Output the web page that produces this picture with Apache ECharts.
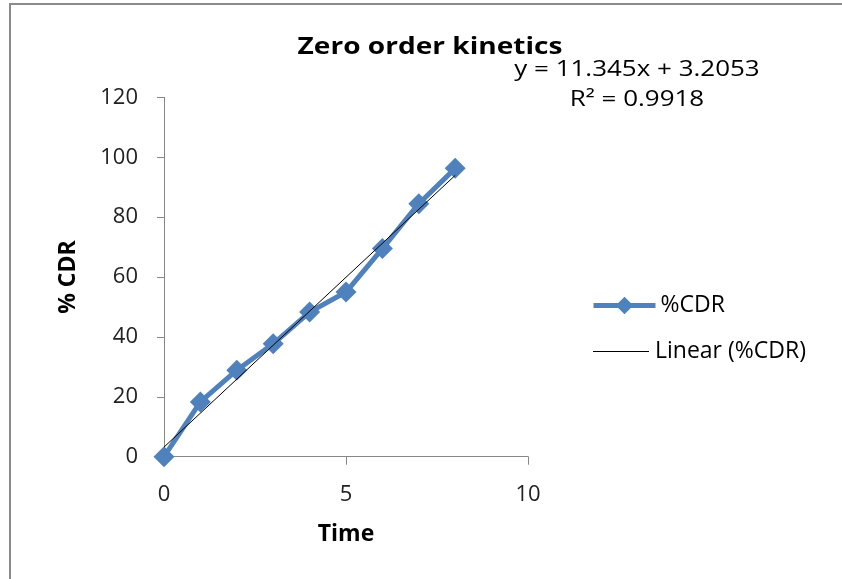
<!DOCTYPE html>
<html>
<head>
<meta charset="utf-8">
<script src="https://cdn.jsdelivr.net/npm/echarts@6/dist/echarts.min.js"></script>
<style>
html,body{margin:0;padding:0;background:#fff;}
#chart{width:842px;height:579px;}
</style>
</head>
<body>
<div id="chart"></div>
<script>
// Data
var timeValues = [0, 1, 2, 3, 4, 5, 6, 7, 8];
var cdrValues = [0, 18.3, 28.9, 37.7, 48.3, 55.0, 69.5, 84.5, 96.3];
var trendSlope = 11.345;
var trendIntercept = 3.2053;
var trendX = [0, 8];
var xTicks = [0, 5, 10];
var yTicks = [0, 20, 40, 60, 80, 100, 120];
var titleText = 'Zero order kinetics';
var equationText = 'y = 11.345x + 3.2053';
var r2Text = 'R\u00B2 = 0.9918';

var cdrData = timeValues.map(function (t, i) { return [t, cdrValues[i]]; });
var trendData = trendX.map(function (t) { return [t, trendSlope * t + trendIntercept]; });

var FONT = 'Open Sans';
var chart = echarts.init(document.getElementById('chart'));
chart.setOption({
  backgroundColor: '#ffffff',
  animation: false,
  textStyle: { fontFamily: FONT },
  graphic: [
    { type: 'rect', shape: { x: 10, y: 4, width: 900, height: 700 },
      style: { fill: 'none', stroke: '#8a8a8a', lineWidth: 2 }, silent: true },
    { type: 'text', x: 430, y: 47, scaleX: 1.22,
      style: { text: titleText, fill: '#000', font: 'bold 23px ' + FONT, textAlign: 'center', textVerticalAlign: 'middle' } },
    { type: 'text', x: 637, y: 70, scaleX: 1.18,
      style: { text: equationText, fill: '#000', font: '22px ' + FONT, textAlign: 'center', textVerticalAlign: 'middle' } },
    { type: 'text', x: 637, y: 100, scaleX: 1.18,
      style: { text: r2Text, fill: '#000', font: '22px ' + FONT, textAlign: 'center', textVerticalAlign: 'middle' } }
  ],
  legend: [
    { data: [{ name: '%CDR' }], orient: 'vertical', left: 586, top: 289,
      itemWidth: 62, itemHeight: 22, itemGap: 5,
      lineStyle: { color: '#4F81BD', width: 5 },
      textStyle: { fontSize: 23, color: '#000', fontFamily: FONT } },
    { data: [{ name: 'Linear (%CDR)', icon: 'path://M0,0 L56,0 L56,1 L0,1 Z' }],
      orient: 'vertical', left: 588, top: 335,
      itemWidth: 58, itemHeight: 1, itemGap: 5,
      itemStyle: { color: '#000' },
      textStyle: { fontSize: 23, color: '#000', fontFamily: FONT } }
  ],
  grid: { left: 164, right: 314, top: 97.4, bottom: 122.3, containLabel: false },
  xAxis: {
    type: 'value', min: 0, max: 10, interval: 5,
    name: 'Time', nameLocation: 'middle', nameGap: 66,
    nameTextStyle: { fontSize: 23, fontWeight: 'bold', color: '#000', fontFamily: FONT },
    axisLine: { show: true, onZero: false, lineStyle: { color: '#878787', width: 1 } },
    axisTick: { show: true, length: 8, lineStyle: { color: '#878787' } },
    axisLabel: { fontSize: 22, color: '#222', margin: 27, fontFamily: FONT,
      formatter: function (v) { return xTicks.indexOf(v) >= 0 ? String(v) : ''; } },
    splitLine: { show: false }
  },
  yAxis: {
    type: 'value', min: 0, max: 120, interval: 20,
    name: '% CDR', nameLocation: 'middle', nameGap: 84, nameRotate: 90,
    nameTextStyle: { fontSize: 23, fontWeight: 'bold', color: '#000', fontFamily: FONT },
    axisLine: { show: true, lineStyle: { color: '#878787', width: 1 } },
    axisTick: { show: true, length: 7, lineStyle: { color: '#878787' } },
    axisLabel: { fontSize: 22, color: '#222', margin: 26, fontFamily: FONT,
      formatter: function (v) { return yTicks.indexOf(v) >= 0 ? String(v) : ''; } },
    splitLine: { show: false }
  },
  series: [
    { name: '%CDR', type: 'line', data: cdrData,
      symbol: 'diamond', symbolSize: 21, showAllSymbol: true,
      lineStyle: { color: '#4F81BD', width: 5 },
      itemStyle: { color: '#4F81BD' }, z: 2 },
    { name: 'Linear (%CDR)', type: 'line', data: trendData,
      symbol: 'none', showSymbol: false,
      lineStyle: { color: '#000', width: 1 },
      itemStyle: { color: '#000' }, z: 3 }
  ]
});
</script>
</body>
</html>
